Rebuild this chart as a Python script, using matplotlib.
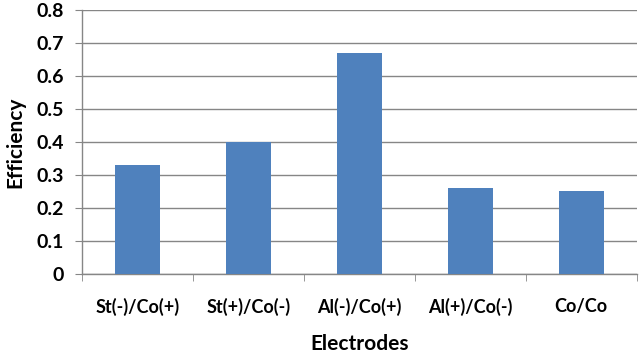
import matplotlib
matplotlib.use("Agg")
import matplotlib.pyplot as plt
import numpy as np

categories = ["St(-)/Co(+)", "St(+)/Co(-)", "Al(-)/Co(+)", "Al(+)/Co(-)", "Co/Co"]
efficiency = [0.33, 0.40, 0.67, 0.26, 0.25]
yticks = [0, 0.1, 0.2, 0.3, 0.4, 0.5, 0.6, 0.7, 0.8]

plt.rcParams["font.family"] = ["Lato", "DejaVu Sans"]
plt.rcParams["font.weight"] = "bold"

fig = plt.figure(figsize=(6.4, 3.57), dpi=100)
ax = fig.add_axes([0.128, 0.2325, 0.867, 0.7395])

grid_col = "#868686"
x = np.arange(len(categories))
ax.bar(x, efficiency, width=0.4, color="#4F81BD", zorder=3)

ax.set_xlim(-0.5, len(categories) - 0.5)
ax.set_ylim(0, 0.8)
ax.set_yticks(yticks)
ax.set_yticklabels(["0" if v == 0 else f"{v:.1f}" for v in yticks])
ax.yaxis.grid(True, color=grid_col, linewidth=1, zorder=0)

# category labels centered, ticks at boundaries
ax.set_xticks(x)
ax.set_xticklabels(categories)
ax.tick_params(axis="x", which="major", length=0, pad=17, labelsize=13)
ax.set_xticks(np.arange(-0.5, len(categories)), minor=True)
ax.tick_params(axis="x", which="minor", length=5, color=grid_col, direction="out")
ax.tick_params(axis="y", length=5, color=grid_col, labelsize=14, pad=8)

for s in ["top", "right"]:
    ax.spines[s].set_visible(False)
for s in ["left", "bottom"]:
    ax.spines[s].set_color(grid_col)
    ax.spines[s].set_linewidth(1)

ax.set_xlabel("Electrodes", fontsize=15, fontweight="bold", labelpad=13)
ax.set_ylabel("Efficiency", fontsize=15, fontweight="bold", labelpad=8)

fig.savefig("out.png", dpi=100)
